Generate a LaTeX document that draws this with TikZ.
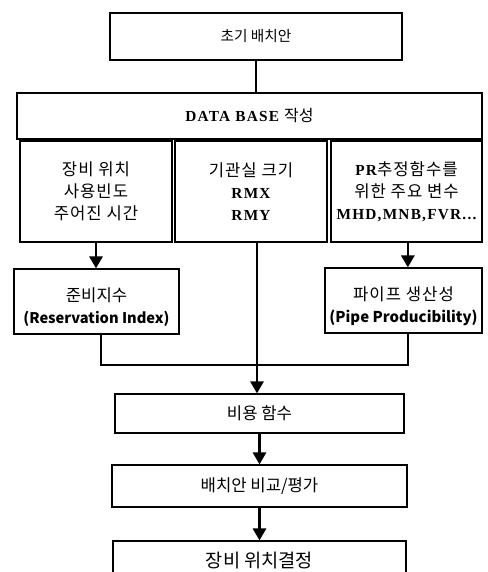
\documentclass[tikz,border=0pt]{standalone}
\usepackage{fontspec}
\setmainfont{Liberation Serif}
\newfontfamily\kr{Noto Sans CJK KR}
\newfontfamily\krw{Noto Sans CJK KR}[LetterSpace=6]
\newfontfamily\lat{Liberation Serif}[LetterSpace=8]
\usetikzlibrary{arrows.meta}
\begin{document}
\begin{tikzpicture}[x=0.75pt,y=-0.75pt,
  box/.style={draw=black,line width=1pt,inner sep=0pt,align=center,fill=white},
  conn/.style={line width=1.7pt},
  arr/.style={line width=1.7pt,-{Triangle[length=9pt,width=10pt]}},
  krt/.style={font=\kr\fontsize{12.5}{16.5}\selectfont},
  krs/.style={font=\krw\fontsize{12.5}{16.5}\selectfont},
  txt/.style={align=center,inner sep=0pt}]
\useasboundingbox (0,0) rectangle (487,572);
\begin{scope}
\clip (0,0) rectangle (487,572);
\node[box,font=\kr\fontsize{11}{14}\selectfont,minimum width=219pt,minimum height=35.25pt] (top) at (256,36.5) {초기 배치안};
\node[box,minimum width=348.75pt,minimum height=34.5pt,font=\lat\bfseries\fontsize{11.5}{14}\selectfont] (db) at (249.5,116) {DATA BASE {\kr\mdseries\fontsize{12}{14}\selectfont 작성}};
\node[box,krs,minimum width=114pt,minimum height=75.75pt] (lsub) at (96,191.5) {장비 위치\\사용빈도\\주어진 시간};
\node[box,krs,minimum width=114pt,minimum height=75.75pt] (msub) at (251,191.5) {기관실 크기\\{\lat\bfseries\fontsize{11.5}{14}\selectfont RMX}\\{\lat\bfseries\fontsize{11.5}{14}\selectfont RMY}};
\node[box,krs,minimum width=113.25pt,minimum height=75.75pt] (rsub) at (406.5,191.5) {{\lat\bfseries\fontsize{11.5}{14}\selectfont PR}추정함수를\\위한 주요 변수\\{\lat\bfseries\fontsize{11.5}{14}\selectfont MHD,MNB,FVR...}};
\node[box,minimum width=123.75pt,minimum height=48.75pt] (res) at (96.5,301.5) {};
\node[txt,krt] (resT) at ([yshift=-4pt]res.center) {준비지수\\{\bfseries\fontsize{11}{14}\selectfont (Reservation Index)}};
\node[box,minimum width=117.75pt,minimum height=48.75pt] (pipe) at (403.5,300.5) {};
\node[txt,krs] (pipeT) at ([yshift=-4pt]pipe.center) {파이프 생산성\\{\kr\bfseries\fontsize{11.2}{14}\selectfont (Pipe Producibility)}};
\node[box,krt,minimum width=216.75pt,minimum height=29.25pt] (cost) at (259.5,413.5) {비용 함수};
\node[box,krt,minimum width=221.25pt,minimum height=31.5pt] (eval) at (259.5,486) {배치안 비교/평가};
\node[box,minimum width=219.75pt,minimum height=36pt] (final) at (259.5,565) {};
\node[txt,font=\kr\fontsize{14}{16}\selectfont] (finalT) at (259.5,561) {장비 위치결정};
\coordinate (bus) at (0,365);
\coordinate (mtop) at (257,242);
\draw[conn] (top.south) -- (top.south |- db.north);
\draw[arr] (lsub.south) -- (lsub.south |- res.north);
\draw[arr] ([xshift=1pt]rsub.south) -- ([xshift=1pt]rsub.south |- pipe.north);
\draw[conn] ([xshift=3.4pt]res.south) -- ([xshift=3.4pt]res.south |- bus) -- ([xshift=3.4pt]pipe.south |- bus) -- ([xshift=3.4pt]pipe.south);
\draw[arr] (mtop) -- (mtop |- cost.north);
\draw[arr] (cost.south) -- (eval.north);
\draw[arr] (eval.south) -- (eval.south |- final.north);
\end{scope}
\end{tikzpicture}
\end{document}
